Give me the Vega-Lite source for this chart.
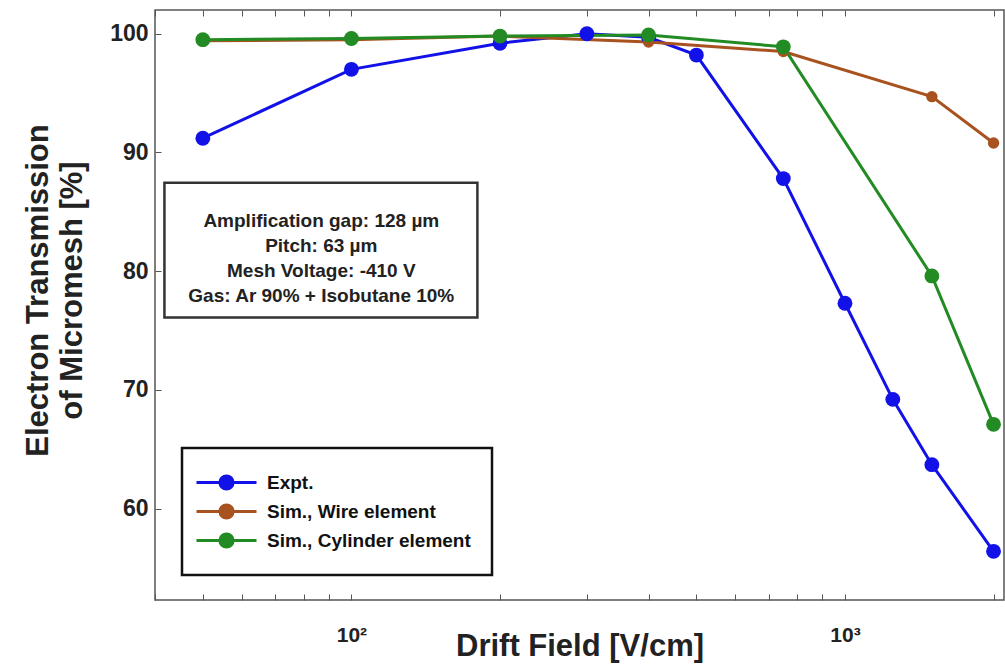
{
  "$schema": "https://vega.github.io/schema/vega-lite/v6.json",
  "width": 849,
  "height": 590,
  "autosize": {"type": "none"},
  "padding": {"left": 155, "top": 10, "right": 1, "bottom": 67},
  "background": "white",
  "config": {
    "font": "Liberation Sans",
    "view": {"stroke": "#555555", "strokeWidth": 1.5},
    "axis": {
      "labelFont": "Liberation Sans",
      "labelFontWeight": "bold",
      "labelColor": "#222222",
      "titleFont": "Liberation Sans",
      "titleFontWeight": "bold",
      "titleColor": "#222222",
      "grid": false,
      "domain": false,
      "tickColor": "#555555",
      "tickWidth": 1
    }
  },
  "resolve": {"axis": {"x": "independent"}},
  "data": {
    "values": [
      {"series": "Expt.", "drift": 50, "trans": 91.2},
      {"series": "Expt.", "drift": 100, "trans": 97.0},
      {"series": "Expt.", "drift": 200, "trans": 99.2},
      {"series": "Expt.", "drift": 300, "trans": 100.0},
      {"series": "Expt.", "drift": 400, "trans": 99.7},
      {"series": "Expt.", "drift": 500, "trans": 98.2},
      {"series": "Expt.", "drift": 750, "trans": 87.8},
      {"series": "Expt.", "drift": 1000, "trans": 77.3},
      {"series": "Expt.", "drift": 1250, "trans": 69.2},
      {"series": "Expt.", "drift": 1500, "trans": 63.7},
      {"series": "Expt.", "drift": 2000, "trans": 56.4},
      {"series": "Sim., Wire element", "drift": 50, "trans": 99.4},
      {"series": "Sim., Wire element", "drift": 100, "trans": 99.5},
      {"series": "Sim., Wire element", "drift": 200, "trans": 99.8},
      {"series": "Sim., Wire element", "drift": 400, "trans": 99.3},
      {"series": "Sim., Wire element", "drift": 750, "trans": 98.5},
      {"series": "Sim., Wire element", "drift": 1500, "trans": 94.7},
      {"series": "Sim., Wire element", "drift": 2000, "trans": 90.8},
      {"series": "Sim., Cylinder element", "drift": 50, "trans": 99.5},
      {"series": "Sim., Cylinder element", "drift": 100, "trans": 99.6},
      {"series": "Sim., Cylinder element", "drift": 200, "trans": 99.8},
      {"series": "Sim., Cylinder element", "drift": 400, "trans": 99.9},
      {"series": "Sim., Cylinder element", "drift": 750, "trans": 98.9},
      {"series": "Sim., Cylinder element", "drift": 1500, "trans": 79.6},
      {"series": "Sim., Cylinder element", "drift": 2000, "trans": 67.1}
    ]
  },
  "encoding": {
    "x": {
      "field": "drift",
      "type": "quantitative",
      "scale": {"type": "log", "domain": [40, 2100], "nice": false},
      "axis": {
        "values": [40, 50, 60, 70, 80, 90, 100, 200, 300, 400, 500, 600, 700, 800, 900, 1000, 2000],
        "labelExpr": "datum.value == 100 ? '10²' : datum.value == 1000 ? '10³' : ''",
        "labelFontSize": 21,
        "labelPadding": 30,
        "tickSize": -6,
        "title": "Drift Field [V/cm]",
        "titleFontSize": 31,
        "titleBaseline": "alphabetic",
        "titleY": 55
      }
    },
    "y": {
      "field": "trans",
      "type": "quantitative",
      "scale": {"domain": [52.3, 102], "nice": false, "zero": false},
      "axis": {
        "values": [60, 70, 80, 90, 100],
        "labelFontSize": 23,
        "labelPadding": 13,
        "tickSize": -6,
        "title": ["Electron Transmission", "of Micromesh [%]"],
        "titleFontSize": 31,
        "titleLineHeight": 34,
        "titleBaseline": "middle",
        "titleX": -117,
        "titleY": 280,
        "titleAngle": -90
      }
    }
  },
  "layer": [
    {
      "mark": {"type": "line", "strokeWidth": 3},
      "encoding": {
        "color": {
          "field": "series",
          "type": "nominal",
          "scale": {
            "domain": ["Expt.", "Sim., Wire element", "Sim., Cylinder element"],
            "range": ["#1212e8", "#a8521f", "#238b23"]
          },
          "legend": {
            "orient": "none",
            "legendX": 27,
            "legendY": 438,
            "title": null,
            "direction": "vertical",
            "strokeColor": "#111111",
            "fillColor": "white",
            "padding": 21,
            "rowPadding": 2,
            "labelFont": "Liberation Sans",
            "labelFontWeight": "bold",
            "labelFontSize": 19,
            "labelColor": "#111111",
            "labelLimit": 400,
            "labelOffset": 27,
            "symbolOffset": 10,
            "symbolType": "M -2.5 0 L 2.5 0 M 0.55 0 A 0.55 0.55 0 1 1 -0.55 0 A 0.55 0.55 0 1 1 0.55 0 Z",
            "symbolSize": 576,
            "symbolStrokeWidth": 3,
            "encode": {
              "legend": {"update": {"strokeWidth": {"value": 2.5}}},
              "symbols": {
                "update": {
                  "fill": {"scale": "color", "field": "value"},
                  "stroke": {"scale": "color", "field": "value"},
                  "fillOpacity": {"value": 1},
                  "strokeOpacity": {"value": 1}
                }
              }
            }
          }
        }
      }
    },
    {
      "mark": {"type": "point", "filled": true, "shape": "circle", "opacity": 1},
      "encoding": {
        "x": {
          "field": "drift",
          "type": "quantitative",
          "axis": {
            "orient": "top",
            "values": [40, 50, 60, 70, 80, 90, 100, 200, 300, 400, 500, 600, 700, 800, 900, 1000, 2000],
            "labels": false,
            "title": null,
            "tickSize": -6
          }
        },
        "color": {"field": "series", "type": "nominal"},
        "size": {
          "condition": {"test": "datum.series === 'Sim., Wire element'", "value": 130},
          "value": 220
        }
      }
    },
    {
      "transform": [{"filter": "datum.series === 'Expt.' && datum.drift === 50"}],
      "mark": {"type": "rect", "fill": "white", "stroke": "#333333", "strokeWidth": 2.5},
      "encoding": {
        "x": {"datum": 41.8, "axis": null},
        "x2": {"datum": 180},
        "y": {"datum": 87.45},
        "y2": {"datum": 76.1}
      }
    },
    {
      "transform": [{"filter": "datum.series === 'Expt.' && datum.drift === 50"}],
      "mark": {
        "type": "text",
        "font": "Liberation Sans",
        "fontWeight": "bold",
        "fontSize": 19,
        "lineHeight": 25,
        "align": "center",
        "baseline": "middle",
        "fill": "#222222",
        "text": ["Amplification gap: 128 µm", "Pitch: 63 µm", "Mesh Voltage: -410 V", "Gas: Ar 90% + Isobutane 10%"]
      },
      "encoding": {
        "x": {"datum": 86.9, "axis": null},
        "y": {"datum": 84.23}
      }
    }
  ]
}
